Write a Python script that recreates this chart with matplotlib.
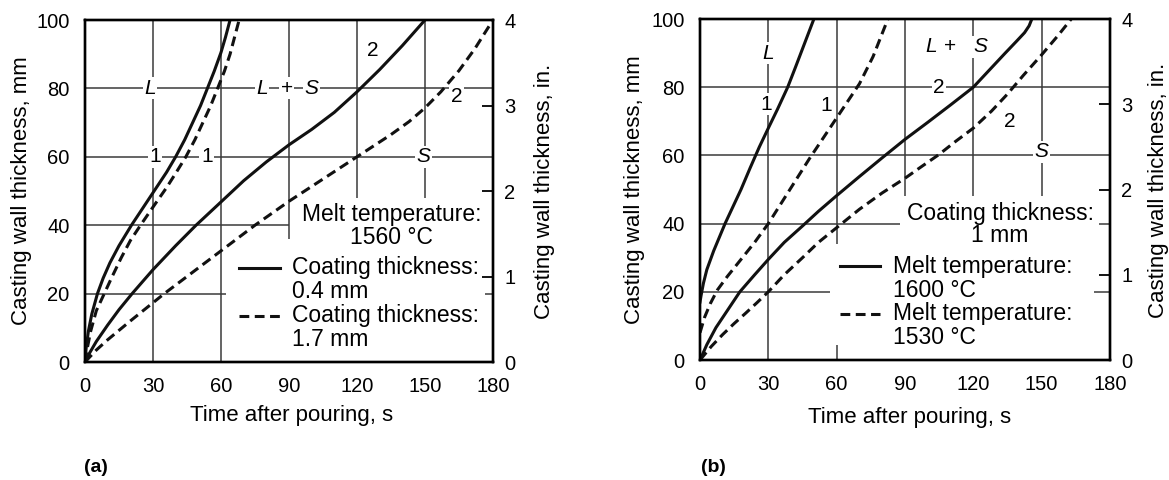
import matplotlib
matplotlib.use("Agg")
import matplotlib.pyplot as plt

plt.rcParams['font.family'] = ['Liberation Sans', 'DejaVu Sans']
TICK_FONT = ['Liberation Sans Narrow', 'Liberation Sans', 'DejaVu Sans']

# axis ticks
time_ticks = [0, 30, 60, 90, 120, 150, 180]
mm_ticks = [0, 20, 40, 60, 80, 100]
inch_ticks = [0, 1, 2, 3, 4]

# ---- (a) melt 1560 C, coating 0.4 mm (solid) vs 1.7 mm (dashed) ----
a_thin_liq_t = [0, 0.5, 1.5, 3, 5.5, 8, 11, 15, 20.5, 26, 31, 36, 40, 44, 47.5, 51, 54, 57, 60, 62, 64]
a_thin_liq_y = [0, 4, 9, 14, 20, 24.5, 29, 34, 40, 45.5, 50.5, 55.5, 60, 65, 70, 75, 80, 85, 90.5, 95, 100]
a_thick_liq_t = [0, 1, 2.5, 5, 8.5, 12, 16, 20, 24.5, 30, 36, 40.5, 44.5, 48.5, 52, 55.5, 58.5, 61.5, 64, 66, 68]
a_thick_liq_y = [0, 4, 9, 15, 20, 25, 30.5, 35.5, 40, 45.3, 51, 55.7, 60, 65, 70, 75, 80, 85, 90, 95, 100]
a_thin_sol_t = [0, 2, 5, 10, 15, 20.8, 30, 40, 49, 60, 70, 80, 90, 100, 110, 120, 130, 140, 150]
a_thin_sol_y = [0, 2.6, 6, 10.8, 15.3, 20, 27, 34, 40, 46.8, 53, 58.5, 63.5, 68, 73, 79, 85.5, 92.5, 100]
a_thick_sol_t = [0, 5, 10, 20, 35, 45, 60, 75, 90, 105, 120, 135, 143, 150, 157, 165, 172, 180]
a_thick_sol_y = [0, 3.5, 6.5, 12, 20, 25, 32.5, 40, 47, 53.5, 60, 66.5, 70.3, 74.3, 79, 85.2, 91.6, 100]

# ---- (b) coating 1 mm, melt 1600 C (solid) vs 1530 C (dashed) ----
b_hot_liq_t = [0, 0.5, 1.5, 3, 6, 11, 14.5, 18, 22, 26, 30, 34, 38.5, 42, 46, 50]
b_hot_liq_y = [17, 19, 22.5, 26.5, 32, 40, 45, 50, 56.3, 62.4, 68, 73.5, 80, 86, 93, 100]
b_cold_liq_t = [0, 2, 4.5, 7.6, 12, 18, 24, 30, 39, 48, 56, 63, 70, 76, 82.5]
b_cold_liq_y = [8, 12.5, 16.5, 20.5, 24.5, 29.5, 34.5, 40, 49.5, 59, 67, 74, 81, 89, 100]
b_hot_sol_t = [0, 3, 7, 12, 17.5, 24, 30, 37, 45, 52, 60, 70, 80, 90, 100, 110, 120, 127, 134, 139, 142.5, 144.5, 145.7]
b_hot_sol_y = [0, 4.5, 9.5, 14.5, 20, 25, 29.5, 34.5, 39.3, 43.6, 48.2, 53.8, 59.3, 64.7, 69.7, 74.8, 80, 85, 90, 93.5, 96, 98, 100]
b_cold_sol_t = [0, 5, 10, 15, 20, 25, 30, 37, 45, 52, 60, 70, 80, 90, 97, 104.8, 112, 120, 128, 135, 142, 150, 157, 163]
b_cold_sol_y = [0, 4, 7.5, 10.7, 13.7, 16.8, 20, 25, 30, 34.5, 38.8, 44.2, 49, 53.3, 56.6, 60.2, 64, 68, 73, 78, 83.5, 89.5, 95, 100]

# region / curve labels (text, t, mm, italic)
a_labels = [("L", 28.6, 80, True), ("L", 78, 80, True), ("+", 89, 80, False), ("S", 100, 80, True),
            ("1", 30.8, 60, False), ("1", 53.7, 60, False), ("2", 127, 91, False),
            ("2", 164, 77.5, False), ("S", 149.5, 60, True)]
b_labels = [("L", 29.8, 90, True), ("1", 29, 75, False), ("1", 55.5, 74.5, False),
            ("L", 101.5, 91.8, True), ("+", 110, 91.8, False), ("S", 123, 91.8, True),
            ("2", 105, 80, False), ("2", 136, 70, False), ("S", 150, 61, True)]

# broken grid segments: (value, from, to)
a_hgrid = [(80, 0, 180), (60, 0, 180), (40, 0, 90), (20, 0, 62), (20, 176.5, 180)]
a_vgrid = [(30, 0, 100), (60, 0, 100), (90, 36, 100), (120, 48, 100), (150, 48, 100)]
b_hgrid = [(80, 0, 180), (60, 0, 180), (40, 0, 88), (40, 175, 180), (20, 0, 57), (20, 173, 180)]
b_vgrid = [(30, 0, 100), (60, 34, 100), (60, 0, 4.5), (90, 48, 100), (120, 48, 100), (150, 48, 100)]

LW = 2.2
DASH = (3.2, 1.8)
GRID = dict(color='#3a3a3a', lw=1.1, zorder=1)
WHITE = dict(facecolor='white', edgecolor='none', pad=1.0)

fig = plt.figure(figsize=(11.69, 4.8), dpi=100)
ax_a = fig.add_axes([0.0727, 0.2458, 0.349, 0.7125])
ax_b = fig.add_axes([0.5988, 0.25, 0.3507, 0.7104])


def setup(ax, hgrid, vgrid):
    ax.set_xlim(0, 180)
    ax.set_ylim(0, 100)
    for v, lo, hi in hgrid:
        ax.hlines(v, lo, hi, **GRID)
    for v, lo, hi in vgrid:
        ax.vlines(v, lo, hi, **GRID)
    ax.set_xticks(time_ticks)
    ax.set_yticks(mm_ticks)
    ax.tick_params(length=0, pad=11, labelsize=14.5)
    plt.setp(ax.get_xticklabels() + ax.get_yticklabels(), family=TICK_FONT)
    for s in ax.spines.values():
        s.set_linewidth(1.7)
    ax2 = ax.twinx()
    ax2.set_ylim(0, 4)
    ax2.set_yticks(inch_ticks)
    ax2.tick_params(direction='in', length=8, width=1.3, pad=8, labelsize=14.5)
    plt.setp(ax2.get_yticklabels(), family=TICK_FONT)
    for s in ax2.spines.values():
        s.set_linewidth(1.7)
    return ax2


def curves(ax, solid, dashed):
    for t, y in solid:
        ax.plot(t, y, color='#111111', lw=LW, zorder=3)
    for t, y in dashed:
        ax.plot(t, y, color='#111111', lw=LW, dashes=DASH, zorder=3)


def labels(ax, items):
    for txt, t, y, ital in items:
        ax.text(t, y, txt, ha='center', va='center', fontsize=15,
                style='italic' if ital else 'normal', bbox=WHITE, zorder=2)


def legend(ax, head, sub, entries, x_key, x_txt, head_x):
    fs = 16.5
    ax.text(head_x, 0.43, head, transform=ax.transAxes, ha='center', va='center', fontsize=fs, zorder=2)
    ax.text(head_x, 0.365, sub, transform=ax.transAxes, ha='center', va='center', fontsize=fs, zorder=2)
    for (name, val, dashed), yk in zip(entries, [0.275, 0.135]):
        kw = dict(dashes=DASH) if dashed else {}
        ax.plot(x_key, [yk, yk], transform=ax.transAxes, color='#111111', lw=LW, **kw)
        ax.text(x_txt, yk, name, transform=ax.transAxes, ha='left', va='center', fontsize=fs)
        ax.text(x_txt, yk - 0.07, val, transform=ax.transAxes, ha='left', va='center', fontsize=fs)


setup(ax_a, a_hgrid, a_vgrid)
curves(ax_a, [(a_thin_liq_t, a_thin_liq_y), (a_thin_sol_t, a_thin_sol_y)],
       [(a_thick_liq_t, a_thick_liq_y), (a_thick_sol_t, a_thick_sol_y)])
labels(ax_a, a_labels)
legend(ax_a, "Melt temperature:", "1560 °C",
       [("Coating thickness:", "0.4 mm", False), ("Coating thickness:", "1.7 mm", True)],
       [0.378, 0.478], 0.508, 0.752)

setup(ax_b, b_hgrid, b_vgrid)
curves(ax_b, [(b_hot_liq_t, b_hot_liq_y), (b_hot_sol_t, b_hot_sol_y)],
       [(b_cold_liq_t, b_cold_liq_y), (b_cold_sol_t, b_cold_sol_y)])
labels(ax_b, b_labels)
legend(ax_b, "Coating thickness:", "1 mm",
       [("Melt temperature:", "1600 °C", False), ("Melt temperature:", "1530 °C", True)],
       [0.341, 0.439], 0.471, 0.732)

# axis titles
yl = "Casting wall thickness, mm"
yr = "Casting wall thickness, in."
xl = "Time after pouring, s"
fig.text(0.0188, 0.602, yl, rotation=90, ha='center', va='center', fontsize=16)
fig.text(0.466, 0.602, yr, rotation=90, ha='center', va='center', fontsize=16)
fig.text(0.249, 0.135, xl, ha='center', va='center', fontsize=16)
fig.text(0.543, 0.604, yl, rotation=90, ha='center', va='center', fontsize=16)
fig.text(0.9906, 0.604, yr, rotation=90, ha='center', va='center', fontsize=16)
fig.text(0.778, 0.131, xl, ha='center', va='center', fontsize=16)
fig.text(0.082, 0.027, "(a)", ha='center', va='center', fontsize=14, weight='bold')
fig.text(0.61, 0.027, "(b)", ha='center', va='center', fontsize=14, weight='bold')

fig.savefig("out.png", dpi=100)
